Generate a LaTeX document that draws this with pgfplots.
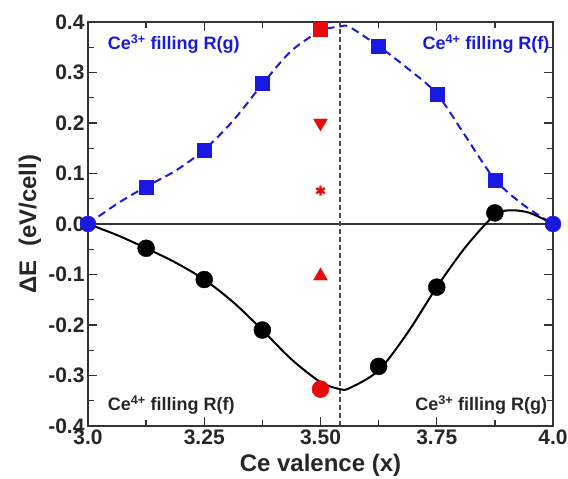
\documentclass[border=0pt]{standalone}
\usepackage{pgfplots}
\pgfplotsset{compat=1.18}
\usepackage{fontspec}
\setmainfont{Liberation Sans}
\definecolor{myblue}{RGB}{25,25,225}
\definecolor{myred}{RGB}{230,10,10}
\begin{document}
\begin{tikzpicture}
\begin{axis}[
    scale only axis,
    width=465pt, height=404pt,
    xmin=3, xmax=4, ymin=-0.4, ymax=0.4,
    xtick={3,3.25,3.5,3.75,4},
    xticklabels={3.0,3.25,3.50,3.75,4.0},
    ytick={-0.4,-0.3,-0.2,-0.1,0,0.1,0.2,0.3,0.4},
    yticklabels={-0.4,-0.3,-0.2,-0.1,0.0,0.1,0.2,0.3,0.4},
    minor xtick={3.125,3.375,3.625,3.875},
    minor ytick={-0.35,-0.25,-0.15,-0.05,0.05,0.15,0.25,0.35},
    tick align=inside,
    tick pos=both,
    major tick length=9pt, minor tick length=6pt,
    axis line style={line width=2.2pt, black!80},
    every tick/.append style={black!80, line width=1.4pt},
    tick label style={font=\fontsize{21}{24}\selectfont\bfseries, text=black!85},
    xlabel={Ce valence (x)},
    ylabel={ΔE\ \ (eV/cell)},
    label style={font=\fontsize{24}{27}\selectfont\bfseries, text=black!85},
    xlabel style={at={(axis description cs:0.5,-0.0965)}, anchor=center},
    ylabel style={at={(axis description cs:-0.125,0.5)}, anchor=center},
    unbounded coords=jump,
  ]
  % inward ticks on all four sides
  \addplot[black!80, line width=1.4pt, forget plot] coordinates {
    (3.25,-0.4) (3.25,-0.3822) (nan,nan) (3.5,-0.4) (3.5,-0.3822) (nan,nan) (3.75,-0.4) (3.75,-0.3822) (nan,nan)
    (3.125,-0.4) (3.125,-0.3881) (nan,nan) (3.375,-0.4) (3.375,-0.3881) (nan,nan)
    (3.625,-0.4) (3.625,-0.3881) (nan,nan) (3.875,-0.4) (3.875,-0.3881) (nan,nan)
    (3.25,0.4) (3.25,0.3822) (nan,nan) (3.5,0.4) (3.5,0.3822) (nan,nan) (3.75,0.4) (3.75,0.3822) (nan,nan)
    (3.125,0.4) (3.125,0.3881) (nan,nan) (3.375,0.4) (3.375,0.3881) (nan,nan)
    (3.625,0.4) (3.625,0.3881) (nan,nan) (3.875,0.4) (3.875,0.3881)
  };
  \addplot[black!80, line width=1.4pt, forget plot] coordinates {
    (3,-0.3) (3.0194,-0.3) (nan,nan) (3,-0.2) (3.0194,-0.2) (nan,nan) (3,-0.1) (3.0194,-0.1) (nan,nan)
    (3,0.1) (3.0194,0.1) (nan,nan) (3,0.2) (3.0194,0.2) (nan,nan) (3,0.3) (3.0194,0.3) (nan,nan)
    (3,-0.35) (3.0129,-0.35) (nan,nan) (3,-0.25) (3.0129,-0.25) (nan,nan) (3,-0.15) (3.0129,-0.15) (nan,nan)
    (3,-0.05) (3.0129,-0.05) (nan,nan) (3,0.05) (3.0129,0.05) (nan,nan) (3,0.15) (3.0129,0.15) (nan,nan)
    (3,0.25) (3.0129,0.25) (nan,nan) (3,0.35) (3.0129,0.35) (nan,nan)
    (4,-0.3) (3.9806,-0.3) (nan,nan) (4,-0.2) (3.9806,-0.2) (nan,nan) (4,-0.1) (3.9806,-0.1) (nan,nan)
    (4,0.1) (3.9806,0.1) (nan,nan) (4,0.2) (3.9806,0.2) (nan,nan) (4,0.3) (3.9806,0.3) (nan,nan)
    (4,-0.35) (3.9871,-0.35) (nan,nan) (4,-0.25) (3.9871,-0.25) (nan,nan) (4,-0.15) (3.9871,-0.15) (nan,nan)
    (4,-0.05) (3.9871,-0.05) (nan,nan) (4,0.05) (3.9871,0.05) (nan,nan) (4,0.15) (3.9871,0.15) (nan,nan)
    (4,0.25) (3.9871,0.25) (nan,nan) (4,0.35) (3.9871,0.35)
  };
  % zero line and vertical marker
  \addplot[black!80, line width=2pt] coordinates {(3,0) (4,0)};
  \addplot[black!70, line width=1.1pt, dash pattern=on 5pt off 3pt] coordinates {(3.542,-0.4) (3.542,0.4)};
  % blue dashed curve
  \addplot[myblue, line width=2pt, smooth, dash pattern=on 8pt off 5pt] coordinates {
    (3.0,0) (3.0625,0.04) (3.125,0.074) (3.1875,0.105) (3.25,0.147) (3.3125,0.205)
    (3.375,0.277) (3.4375,0.343) (3.5,0.382) (3.542,0.391) (3.5625,0.39)
    (3.625,0.352) (3.6875,0.308) (3.75,0.258) (3.8125,0.173) (3.875,0.088)
    (3.9375,0.037) (4.0,0)
  };
  % black solid curve
  \addplot[black, line width=2pt, smooth] coordinates {
    (3.0,0) (3.0625,-0.022) (3.125,-0.048) (3.1875,-0.076) (3.25,-0.11) (3.3125,-0.155)
    (3.375,-0.21) (3.4375,-0.268) (3.5,-0.313) (3.542,-0.327) (3.5625,-0.325)
    (3.625,-0.29) (3.6875,-0.215) (3.75,-0.125) (3.8125,-0.045) (3.875,0.018)
    (3.91,0.027) (3.95,0.022) (4.0,0)
  };
  % blue squares
  \addplot[only marks, mark=square*, mark size=7pt, myblue] coordinates {
    (3.125,0.0735) (3.25,0.147) (3.375,0.278) (3.625,0.352) (3.75,0.258) (3.875,0.0875)
  };
  % black circles
  \addplot[only marks, mark=*, mark size=8.5pt, black] coordinates {
    (3.125,-0.048) (3.25,-0.11) (3.375,-0.21) (3.625,-0.282) (3.75,-0.125) (3.875,0.022)
  };
  % end points
  \addplot[only marks, mark=*, mark size=8pt, myblue] coordinates {(3,0) (4,0)};
  % red markers at x = 3.5
  \addplot[only marks, mark=square*, mark size=7pt, myred] coordinates {(3.5,0.385)};
  \addplot[only marks, mark=triangle*, mark size=8pt, myred, mark options={rotate=180}] coordinates {(3.5,0.2)};
  \addplot[only marks, mark=asterisk, mark size=5pt, myred, mark options={line width=2.4pt}] coordinates {(3.5,0.066)};
  \addplot[only marks, mark=triangle*, mark size=8pt, myred] coordinates {(3.5,-0.103)};
  \addplot[only marks, mark=*, mark size=8.5pt, myred] coordinates {(3.5,-0.327)};
  % annotations
  \node[anchor=west, text=myblue, font=\fontsize{18}{20}\selectfont\bfseries] at (axis cs:3.035,0.356) {Ce\textsuperscript{3+} filling R(g)};
  \node[anchor=east, text=myblue, font=\fontsize{18}{20}\selectfont\bfseries] at (axis cs:4.0,0.356) {Ce\textsuperscript{4+} filling R(f)};
  \node[anchor=west, text=black!85, font=\fontsize{18}{20}\selectfont\bfseries] at (axis cs:3.035,-0.358) {Ce\textsuperscript{4+} filling R(f)};
  \node[anchor=east, text=black!85, font=\fontsize{18}{20}\selectfont\bfseries] at (axis cs:3.995,-0.358) {Ce\textsuperscript{3+} filling R(g)};
\end{axis}
\pgfresetboundingbox
\path (current axis.south west) ++(-88pt,-53pt) coordinate (bbA);
\path (current axis.north east) ++(15pt,22pt) coordinate (bbB);
\useasboundingbox (bbA) rectangle (bbB);
\end{tikzpicture}
\end{document}
